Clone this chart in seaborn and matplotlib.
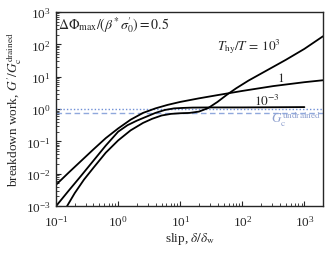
import numpy as np
import pandas as pd
import matplotlib
matplotlib.use("Agg")
import matplotlib.pyplot as plt
import seaborn as sns

# ---- data (log10 values) ----
series_names = ["1e3", "1", "1e-3"]

x_log_hi = [-0.823, -0.7, -0.55, -0.4, -0.2, 0.0, 0.2, 0.4, 0.55, 0.7, 0.85, 1.0, 1.15, 1.3, 1.45, 1.6, 1.75, 1.9, 2.1, 2.4, 2.7, 3.0, 3.3]
y_log_hi = [-3.0, -2.6, -2.18, -1.82, -1.35, -0.97, -0.66, -0.43, -0.3, -0.2, -0.15, -0.13, -0.12, -0.08, 0.03, 0.22, 0.44, 0.64, 0.88, 1.2, 1.52, 1.86, 2.25]

x_log_mid = [-1.0, -0.8, -0.6, -0.4, -0.2, 0.0, 0.2, 0.4, 0.6, 0.8, 1.0, 1.3, 1.6, 2.0, 2.5, 3.0, 3.3]
y_log_mid = [-2.34, -1.97, -1.61, -1.25, -0.9, -0.6, -0.33, -0.12, 0.02, 0.13, 0.22, 0.33, 0.43, 0.56, 0.71, 0.83, 0.89]

x_log_lo = [-1.0, -0.8, -0.6, -0.4, -0.2, 0.0, 0.15, 0.3, 0.45, 0.6, 0.75, 0.9, 1.05, 1.2, 1.5, 2.0, 2.5, 3.0]
y_log_lo = [-3.0, -2.53, -2.07, -1.6, -1.13, -0.7, -0.5, -0.36, -0.24, -0.12, -0.03, 0.02, 0.035, 0.045, 0.05, 0.05, 0.055, 0.06]

gc_drained = 1.0
gc_undrained = 0.75

frames = []
for name, xl, yl in [("1e3", x_log_hi, y_log_hi), ("1", x_log_mid, y_log_mid), ("1e-3", x_log_lo, y_log_lo)]:
    frames.append(pd.DataFrame({"slip": 10 ** np.array(xl), "G": 10 ** np.array(yl), "series": name}))
df = pd.concat(frames, ignore_index=True)

sns.set_style("ticks")
plt.rcParams["font.family"] = ["Liberation Serif", "DejaVu Serif"]
plt.rcParams["mathtext.fontset"] = "stix"
plt.rcParams["font.size"] = 9.5

fig = plt.figure(figsize=(3.3, 2.55), dpi=100)
ax = fig.add_axes([0.170, 0.188, 0.809, 0.761])

sns.lineplot(data=df, x="slip", y="G", hue="series", palette={n: "black" for n in series_names},
             legend=False, ax=ax, linewidth=1.3, sort=False, estimator=None)

ax.axhline(gc_drained, color="#6f8fd6", linestyle=(0, (1, 1.5)), linewidth=1.0, zorder=1)
ax.axhline(gc_undrained, color="#8fa8dc", linestyle=(0, (4, 2.5)), linewidth=1.0, zorder=1)

ax.set_xscale("log")
ax.set_yscale("log")
ax.set_xlim(0.1, 2000)
ax.set_ylim(1e-3, 1e3)

ax.tick_params(which="both", direction="in", top=False, right=False, labelsize=9.5)
ax.tick_params(which="major", length=3.5, width=0.8)
ax.tick_params(which="minor", length=2, width=0.6)
ax.tick_params(axis="x", which="major", pad=6)
ax.tick_params(axis="y", which="major", pad=4)
for s in ax.spines.values():
    s.set_linewidth(1.0)

ax.set_xlabel(r"slip, $\delta/\delta_{\rm w}$", fontsize=9.5, labelpad=1)
ax.set_ylabel(r"breakdown work, $G'/G_{\rm c}^{\rm drained}$", fontsize=9.5, labelpad=1)

ax.text(0.008, 0.99, r"$\Delta\Phi_{\rm max}/(\beta^{*}\,\sigma_0') = 0.5$", transform=ax.transAxes,
        ha="left", va="top", fontsize=10)
ax.text(130, 90, r"$T_{\rm hy}/T\,=\,10^3$", ha="center", va="center", fontsize=9.5)
ax.text(410, 9.5, r"$1$", ha="center", va="center", fontsize=9.5)
ax.text(250, 1.8, r"$10^{-3}$", ha="center", va="center", fontsize=9.5)
ax.text(740, 0.52, r"$G_{\rm c}^{\rm undrained}$", ha="center", va="center", fontsize=9.5, color="#8ea0cf")

fig.savefig("out.png", dpi=100)
